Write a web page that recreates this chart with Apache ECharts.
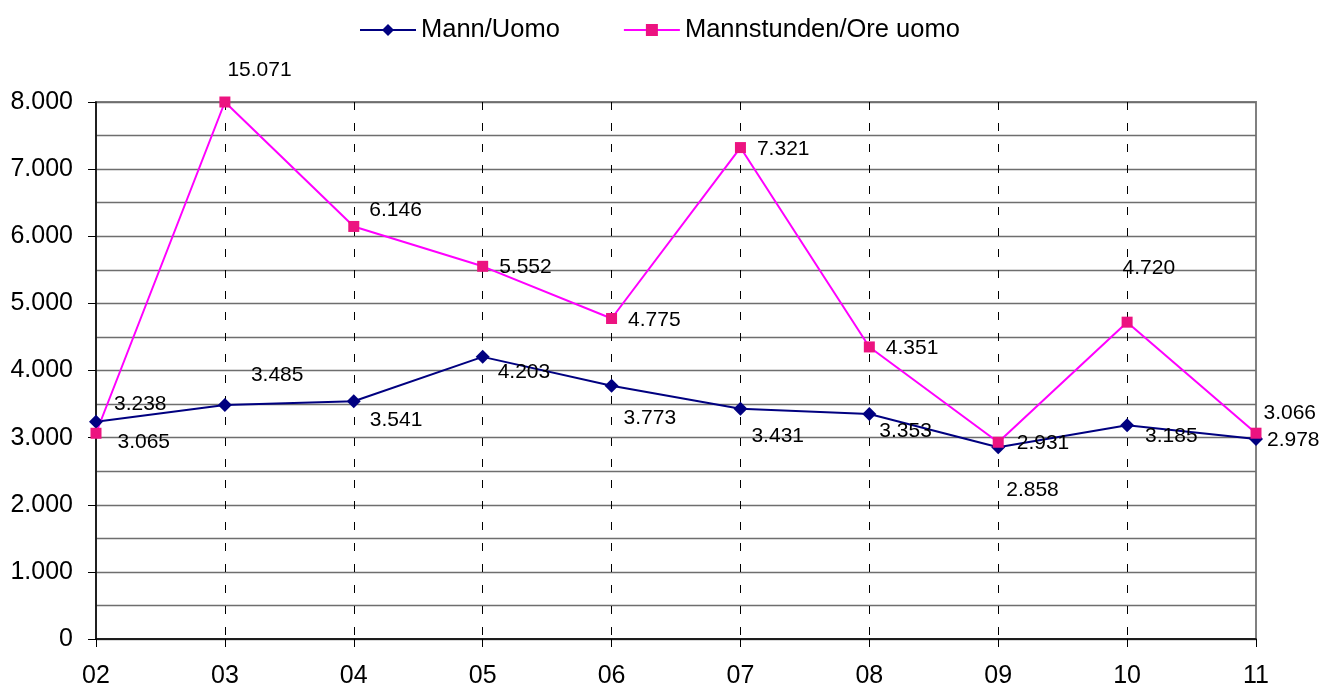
<!DOCTYPE html>
<html>
<head>
<meta charset="utf-8">
<script src="https://cdn.jsdelivr.net/npm/echarts@6/dist/echarts.min.js"></script>
<style>
html,body{margin:0;padding:0;background:#fff;}
#chart{width:1322px;height:690px;}
</style>
</head>
<body>
<div id="chart"></div>
<script>
// ---- data ----
var categories = ['02', '03', '04', '05', '06', '07', '08', '09', '10', '11'];
var seriesNames = ['Mann/Uomo', 'Mannstunden/Ore uomo'];
var mannUomo = [3238, 3485, 3541, 4203, 3773, 3431, 3353, 2858, 3185, 2978];
var mannstunden = [3065, 15071, 6146, 5552, 4775, 7321, 4351, 2931, 4720, 3066];
var yTicks = [0, 1000, 2000, 3000, 4000, 5000, 6000, 7000, 8000];

// ---- styling (label placement) ----
var blueLabelOffsets = [[11,-17],[19,-30],[9,19],[8,15],[5,32],[4,28],[3,17],[1,43],[11,11],[4,1]];
var pinkLabelOffsets = [[16,9],[-3,-32],[10,-16],[11,1],[11,2],[11,2],[11,1],[13,1],[-10,-54],[2,-20]];

var yMin = yTicks[0], yMax = yTicks[yTicks.length - 1];
var FONT = 'Liberation Sans, Arial, sans-serif';

function fmt(n) {
  return String(Math.round(n)).replace(/\B(?=(\d{3})+(?!\d))/g, '.');
}

function buildData(values, offsets) {
  return values.map(function (v, i) {
    return {
      value: Math.min(v, yMax),
      orig: v,
      label: { offset: offsets[i] }
    };
  });
}

var chart = echarts.init(document.getElementById('chart'), null, { renderer: 'canvas' });

var labelCommon = {
  show: true,
  position: 'right',
  distance: 0,
  color: '#000',
  fontSize: 21,
  fontFamily: FONT,
  formatter: function (p) { return fmt(p.data.orig); }
};

chart.setOption({
  animation: false,
  backgroundColor: '#fff',
  textStyle: { fontFamily: FONT },
  legend: {
    data: seriesNames,
    left: 354,
    top: 12,
    itemWidth: 56,
    itemHeight: 15,
    itemGap: 63,
    textStyle: { fontSize: 25.5, color: '#000', fontFamily: FONT }
  },
  grid: {
    left: 96, right: 66, top: 102, bottom: 51,
    show: true,
    borderColor: '#808080',
    borderWidth: 2,
    backgroundColor: '#fff'
  },
  xAxis: {
    type: 'category',
    data: categories,
    boundaryGap: false,
    axisLine: { lineStyle: { color: '#000', width: 1.5 } },
    axisTick: { show: true, length: 8, inside: false, lineStyle: { color: '#000' } },
    axisLabel: { color: '#000', fontSize: 25, fontFamily: FONT, margin: 25 },
    splitLine: {
      show: true,
      interval: function (idx) { return idx > 0 && idx < categories.length - 1; },
      lineStyle: { color: '#000', type: [8, 13], width: 1 }
    }
  },
  yAxis: {
    type: 'value',
    min: yMin,
    max: yMax,
    interval: 1000,
    axisLine: { show: true, lineStyle: { color: '#000', width: 1.5 } },
    axisTick: { show: true, length: 8, lineStyle: { color: '#000' } },
    axisLabel: { color: '#000', fontSize: 25, fontFamily: FONT, margin: 23, formatter: function (v) { return fmt(v); } },
    splitLine: { show: true, lineStyle: { color: '#6e6e6e', width: 1.3 } },
    minorTick: { show: false, splitNumber: 2 },
    minorSplitLine: { show: true, lineStyle: { color: '#6e6e6e', width: 1.3 } }
  },
  series: [
    {
      name: seriesNames[0],
      type: 'line',
      data: buildData(mannUomo, blueLabelOffsets),
      symbol: 'diamond',
      symbolSize: 14,
      clip: false,
      itemStyle: { color: '#000080' },
      lineStyle: { color: '#000080', width: 2 },
      label: labelCommon
    },
    {
      name: seriesNames[1],
      type: 'line',
      data: buildData(mannstunden, pinkLabelOffsets),
      symbol: 'rect',
      symbolSize: 11,
      clip: false,
      itemStyle: { color: '#EC1380' },
      lineStyle: { color: '#FF00FF', width: 2 },
      label: labelCommon
    }
  ]
});
</script>
</body>
</html>
